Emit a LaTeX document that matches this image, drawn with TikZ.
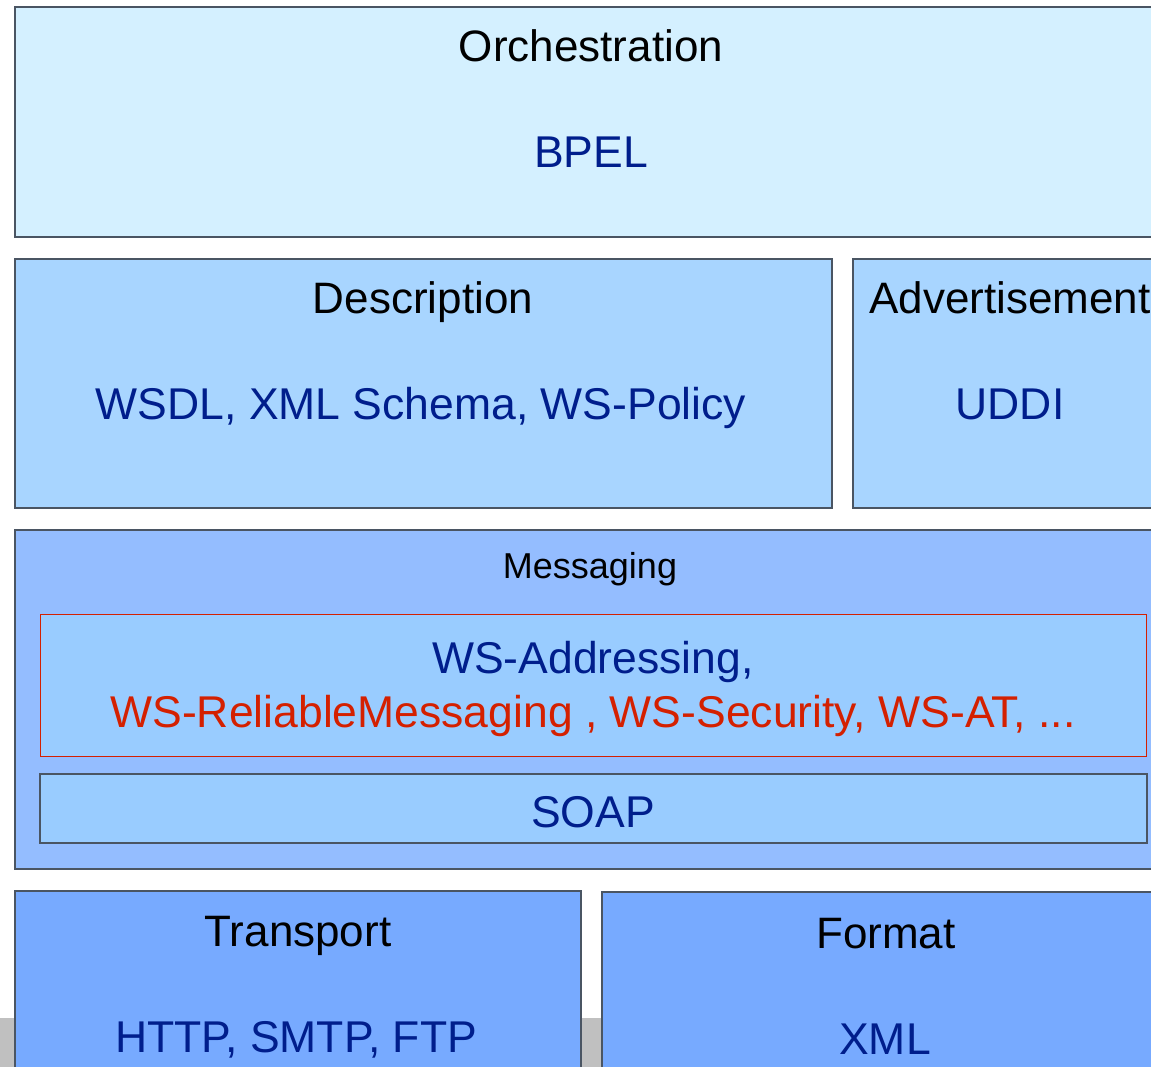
\documentclass[tikz,border=0pt]{standalone}
\usepackage{fontspec}
\setmainfont{Liberation Sans}
\definecolor{edge}{HTML}{4A5563}
\definecolor{orchfill}{HTML}{D4F0FF}
\definecolor{descfill}{HTML}{A8D5FF}
\definecolor{msgfill}{HTML}{94BDFF}
\definecolor{innerfill}{HTML}{99CCFF}
\definecolor{basefill}{HTML}{77AAFF}
\definecolor{stripgrey}{HTML}{C0C0C0}
\definecolor{navytext}{HTML}{001E8C}
\definecolor{redtext}{HTML}{D42000}
\begin{document}
\begin{tikzpicture}[x=1pt,y=-1pt,
  layer/.style={draw=edge, line width=1.3pt, inner sep=0pt, outer sep=0pt, anchor=north west},
  head/.style={font=\fontsize{44}{48}\selectfont, text=black, anchor=base, inner sep=0pt},
  item/.style={font=\fontsize{44.5}{48}\selectfont, text=navytext, anchor=base, inner sep=0pt},
  risky/.style={font=\fontsize{44.5}{48}\selectfont, text=redtext, anchor=base, inner sep=0pt}]
\clip (0,0) rectangle (1151,1067);
% grey band along the bottom edge
\fill[stripgrey] (0,1018) rectangle (1151,1067);

% Orchestration layer
\node[layer, fill=orchfill, minimum width=1160pt, minimum height=230pt] (orch) at (15,7) {};
\node[head] (orchT) at (591,62) {Orchestration};
\node[item] (orchI) at (591,168) {BPEL};

% Description and Advertisement
\node[layer, fill=descfill, minimum width=817pt, minimum height=249pt] (desc) at (15,259) {};
\node[head] (descT) at (423,313) {Description};
\node[item] (descI) at (421,419) {WSDL, XML Schema, WS-Policy};
\node[layer, fill=descfill, minimum width=320pt, minimum height=249pt] (adv) at (853,259) {};
\node[head] (advT) at (1010,313) {Advertisement};
\node[item] (advI) at (1010,419) {UDDI};

% Messaging layer with its two inner bands
\node[layer, fill=msgfill, minimum width=1160pt, minimum height=339pt] (msg) at (15,530) {};
\node[head, font=\fontsize{36}{40}\selectfont] (msgT) at (590,578) {Messaging};
\node[layer, draw=redtext, line width=0.9pt, fill=innerfill, minimum width=1106pt, minimum height=142pt] (wsx) at (40,614) {};
\node[item] (wsxA) at (593,673) {WS-Addressing,};
\node[risky] (wsxB) at (593,727) {WS-ReliableMessaging , WS-Security, WS-AT, ...};
\node[layer, fill=innerfill, minimum width=1107pt, minimum height=69pt] (soap) at (40,774) {};
\node[item] (soapT) at (593,827) {SOAP};

% Transport and Format
\node[layer, fill=basefill, minimum width=566pt, minimum height=200pt] (trans) at (15,891) {};
\node[head] (transT) at (298,946) {Transport};
\node[item] (transI) at (296,1052) {HTTP, SMTP, FTP};
\node[layer, fill=basefill, minimum width=600pt, minimum height=200pt] (fmt) at (602,892) {};
\node[head] (fmtT) at (886,948) {Format};
\node[item] (fmtI) at (885,1054) {XML};
\end{tikzpicture}
\end{document}
